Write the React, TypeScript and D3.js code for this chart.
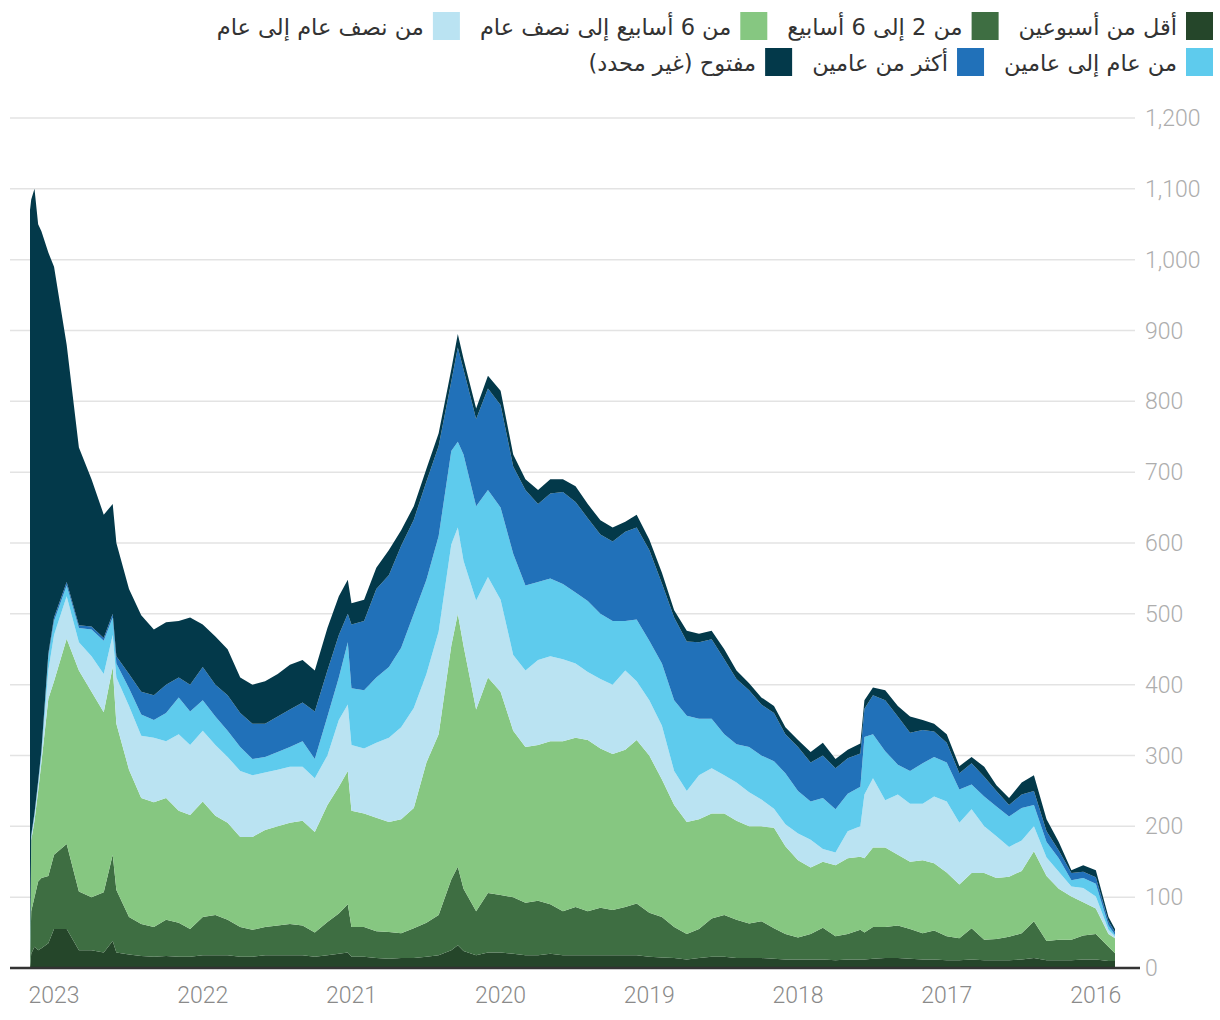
import React, { useEffect, useRef } from 'react';
import * as d3 from 'd3';

// sample dates, newest first (the axis runs right-to-left in time)
const dates = [
  '2023-03-01', '2023-02-26', '2023-02-18', '2023-02-09', '2023-02-01', '2023-01-15', '2023-01-01', '2022-12-01', '2022-11-01', '2022-10-01',
  '2022-09-01', '2022-08-10', '2022-08-01', '2022-07-01', '2022-06-01', '2022-05-01', '2022-04-01', '2022-03-01', '2022-02-01', '2022-01-01',
  '2021-12-01', '2021-11-01', '2021-10-01', '2021-09-01', '2021-08-01', '2021-07-01', '2021-06-01', '2021-05-01', '2021-04-01', '2021-03-01',
  '2021-02-01', '2021-01-10', '2021-01-01', '2020-12-01', '2020-11-01', '2020-10-01', '2020-09-01', '2020-08-01', '2020-07-01', '2020-06-01',
  '2020-05-01', '2020-04-15', '2020-04-01', '2020-03-01', '2020-02-01', '2020-01-01', '2019-12-01', '2019-11-01', '2019-10-01', '2019-09-01',
  '2019-08-01', '2019-07-01', '2019-06-01', '2019-05-01', '2019-04-01', '2019-03-01', '2019-02-01', '2019-01-01', '2018-12-01', '2018-11-01',
  '2018-10-01', '2018-09-01', '2018-08-01', '2018-07-01', '2018-06-01', '2018-05-01', '2018-04-01', '2018-03-01', '2018-02-01', '2018-01-01',
  '2017-12-01', '2017-11-01', '2017-10-01', '2017-09-01', '2017-08-01', '2017-07-22', '2017-07-01', '2017-06-01', '2017-05-01', '2017-04-01',
  '2017-03-01', '2017-02-01', '2017-01-01', '2016-12-01', '2016-11-01', '2016-10-01', '2016-09-01', '2016-08-01', '2016-07-01', '2016-06-01',
  '2016-05-01', '2016-04-01', '2016-03-01', '2016-02-01', '2016-01-01', '2015-12-01', '2015-11-15',
];

// series, bottom of the stack first
const lessThanTwoWeeks = [
  0, 20, 30, 25, 28, 35, 55, 55, 25, 25,
  22, 38, 22, 19, 17, 16, 17, 16, 16, 18,
  18, 18, 16, 16, 18, 18, 18, 18, 16, 18,
  20, 22, 16, 16, 14, 13, 14, 14, 16, 18,
  25, 32, 24, 18, 22, 22, 20, 18, 18, 20,
  18, 18, 18, 18, 18, 18, 18, 16, 15, 14,
  12, 14, 16, 16, 14, 14, 14, 13, 12, 12,
  12, 12, 11, 12, 12, 12, 13, 14, 14, 13,
  12, 12, 11, 11, 12, 11, 11, 11, 12, 14,
  11, 11, 11, 12, 12, 10, 10,
];
const twoToSixWeeks = [
  0, 60, 70, 97, 99, 95, 105, 120, 83, 75,
  85, 122, 88, 53, 45, 42, 51, 48, 39, 54,
  57, 50, 42, 38, 40, 42, 44, 42, 34, 47,
  57, 68, 42, 42, 38, 38, 35, 42, 48, 57,
  100, 111, 88, 62, 84, 81, 80, 74, 77, 70,
  62, 68, 62, 67, 64, 68, 73, 62, 57, 44,
  36, 41, 54, 59, 54, 49, 52, 43, 36, 31,
  36, 45, 34, 36, 42, 38, 45, 44, 46, 42,
  37, 41, 34, 31, 44, 29, 30, 33, 37, 52,
  27, 29, 29, 34, 36, 20, 11,
];
const sixWeeksToHalfYear = [
  4, 100, 108, 128, 163, 250, 245, 290, 312, 290,
  254, 265, 235, 208, 178, 176, 172, 158, 161, 163,
  140, 137, 127, 131, 137, 140, 143, 148, 142, 165,
  179, 188, 164, 160, 160, 155, 161, 170, 226, 255,
  330, 357, 343, 285, 304, 287, 235, 220, 220, 230,
  240, 239, 242, 225, 220, 222, 231, 222, 194, 172,
  158, 155, 148, 143, 140, 137, 134, 142, 124, 109,
  94, 93, 100, 107, 103, 105, 112, 112, 100, 95,
  103, 95, 90, 76, 78, 94, 86, 85, 88, 99,
  92, 72, 61, 47, 36, 18, 21,
];
const halfYearToYear = [
  1, 4, 6, 8, 10, 40, 65, 60, 40, 50,
  54, 45, 65, 90, 88, 91, 80, 108, 99, 100,
  100, 93, 93, 87, 81, 80, 79, 76, 76, 70,
  94, 94, 93, 92, 106, 119, 130, 141, 125, 145,
  143, 122, 120, 154, 142, 130, 107, 108, 120, 120,
  116, 105, 96, 98, 98, 112, 83, 78, 76, 48,
  44, 62, 64, 54, 54, 48, 38, 27, 31, 38,
  39, 18, 18, 38, 43, 90, 98, 67, 85, 82,
  80, 94, 100, 87, 90, 66, 59, 42, 43, 35,
  26, 24, 14, 20, 17, 6, 3,
];
const yearToTwoYears = [
  1, 2, 3, 4, 5, 20, 20, 15, 20, 38,
  47, 25, 20, 25, 30, 25, 40, 52, 47, 43,
  40, 37, 34, 23, 22, 25, 28, 36, 27, 55,
  60, 88, 80, 82, 92, 100, 112, 133, 133, 135,
  132, 121, 150, 133, 123, 130, 143, 120, 110, 110,
  106, 100, 100, 92, 90, 70, 87, 84, 88, 100,
  106, 80, 70, 58, 54, 64, 62, 67, 72, 60,
  54, 72, 61, 53, 56, 81, 62, 69, 42, 46,
  57, 56, 55, 47, 35, 42, 42, 43, 46, 30,
  22, 19, 9, 14, 18, 6, 2,
];
const moreThanTwoYears = [
  1, 2, 2, 2, 2, 4, 5, 5, 4, 4,
  4, 5, 10, 20, 32, 35, 40, 28, 38, 47,
  45, 50, 48, 50, 47, 50, 53, 55, 67, 65,
  60, 40, 90, 98, 125, 130, 144, 133, 139, 127,
  98, 133, 120, 123, 143, 145, 123, 135, 110, 120,
  130, 128, 117, 112, 112, 126, 130, 128, 113, 117,
  105, 108, 112, 106, 92, 80, 72, 68, 55, 62,
  55, 60, 58, 50, 47, 40, 55, 72, 68, 54,
  47, 36, 28, 23, 30, 28, 22, 16, 19, 20,
  15, 11, 10, 9, 9, 6, 4,
];
const openUndetermined = [
  1063, 897, 881, 786, 733, 566, 495, 335, 251, 208,
  174, 155, 160, 120, 108, 93, 88, 80, 95, 60,
  68, 65, 50, 55, 60, 60, 63, 60, 58, 60,
  55, 48, 30, 30, 30, 35, 22, 19, 18, 18,
  17, 19, 15, 15, 18, 20, 17, 15, 20, 20,
  18, 22, 20, 20, 20, 14, 18, 15, 15, 10,
  15, 12, 12, 14, 12, 10, 10, 10, 10, 10,
  15, 18, 13, 12, 14, 12, 11, 14, 15, 23,
  14, 11, 12, 10, 9, 14, 8, 10, 17, 22,
  17, 12, 4, 9, 10, 6, 4,
];

const seriesNames = [
  'أقل من أسبوعين',
  'من 2 إلى 6 أسابيع',
  'من 6 أسابيع إلى نصف عام',
  'من نصف عام إلى عام',
  'من عام إلى عامين',
  'أكثر من عامين',
  'مفتوح (غير محدد)',
];
const seriesColors = ['#25462a', '#3e6e42', '#86c781', '#bae3f2', '#5ecbed', '#2171b9', '#03394a'];

const yTicks = [0, 100, 200, 300, 400, 500, 600, 700, 800, 900, 1000, 1100, 1200];
const yearLabels = [2023, 2022, 2021, 2020, 2019, 2018, 2017, 2016];

const width = 1220;
const height = 1020;

const App = () => {
  const ref = useRef<SVGSVGElement | null>(null);

  useEffect(() => {
    if (!ref.current) return;
    const svg = d3.select(ref.current);
    svg.selectAll('*').remove();

    const parse = d3.timeParse('%Y-%m-%d');
    const values = [lessThanTwoWeeks, twoToSixWeeks, sixWeeksToHalfYear, halfYearToYear, yearToTwoYears, moreThanTwoYears, openUndetermined];
    const keys = values.map((_, k) => 's' + k);
    const rows = dates.map((d, i) => {
      const r: any = { date: parse(d) };
      values.forEach((v, k) => { r['s' + k] = v[i]; });
      return r;
    });

    const x = d3.scaleTime()
      .domain([parse(dates[0])!, parse(dates[dates.length - 1])!])
      .range([30, 1115]);
    const y = d3.scaleLinear().domain([0, 1200]).range([968, 118]);

    // gridlines behind the areas
    svg.append('g')
      .selectAll('line')
      .data(yTicks.filter(t => t > 0))
      .join('line')
      .attr('x1', 10).attr('x2', 1135)
      .attr('y1', d => y(d)).attr('y2', d => y(d))
      .attr('stroke', '#e3e3e3')
      .attr('stroke-width', 1.5);

    const stack = d3.stack<any>().keys(keys);
    const area = d3.area<any>()
      .x(d => x(d.data.date))
      .y0(d => y(d[0]))
      .y1(d => y(d[1]));

    svg.append('g')
      .selectAll('path')
      .data(stack(rows))
      .join('path')
      .attr('fill', (_, i) => seriesColors[i])
      .attr('d', area);

    // baseline
    svg.append('line')
      .attr('x1', 10).attr('x2', 1140)
      .attr('y1', y(0)).attr('y2', y(0))
      .attr('stroke', '#333')
      .attr('stroke-width', 2.5);

    // y labels on the right
    svg.append('g')
      .selectAll('text')
      .data(yTicks)
      .join('text')
      .attr('x', 1145)
      .attr('y', d => y(d))
      .attr('dy', '0.35em')
      .attr('font-family', 'Roboto, sans-serif')
      .attr('font-weight', 300)
      .attr('font-size', 23)
      .attr('fill', '#adadad')
      .text(d => d3.format(',')(d));

    // year labels
    svg.append('g')
      .selectAll('text')
      .data(yearLabels)
      .join('text')
      .attr('x', d => x(new Date(d, 0, 1)))
      .attr('y', 1003)
      .attr('text-anchor', 'middle')
      .attr('font-family', 'Roboto, sans-serif')
      .attr('font-weight', 300)
      .attr('font-size', 23)
      .attr('fill', '#8a8a8a')
      .text(d => d);

    // legend, laid out right to left
    const legendRows = [[0, 1, 2, 3], [4, 5, 6]];
    const legend = svg.append('g');
    legendRows.forEach((items, row) => {
      const top = 12 + row * 36;
      let right = 1213;
      items.forEach(i => {
        legend.append('rect')
          .attr('x', right - 27).attr('y', top)
          .attr('width', 27).attr('height', 28)
          .attr('fill', seriesColors[i]);
        const t = legend.append('text')
          .attr('x', right - 27 - 9)
          .attr('y', top + 15)
          .attr('dy', '0.35em')
          .attr('text-anchor', 'end')
          .attr('font-family', '"DejaVu Sans", sans-serif')
          .attr('font-size', 22.5)
          .attr('fill', '#333')
          .text('\u202B' + seriesNames[i] + '\u202C');
        const w = (t.node() as SVGTextElement).getComputedTextLength();
        right = right - 27 - 9 - w - 20;
      });
    });
  }, []);

  return (
    <svg
      ref={ref}
      width={width}
      height={height}
      style={{ position: 'absolute', left: 0, top: 0, background: '#fff' }}
    ></svg>
  );
};

export default App;
